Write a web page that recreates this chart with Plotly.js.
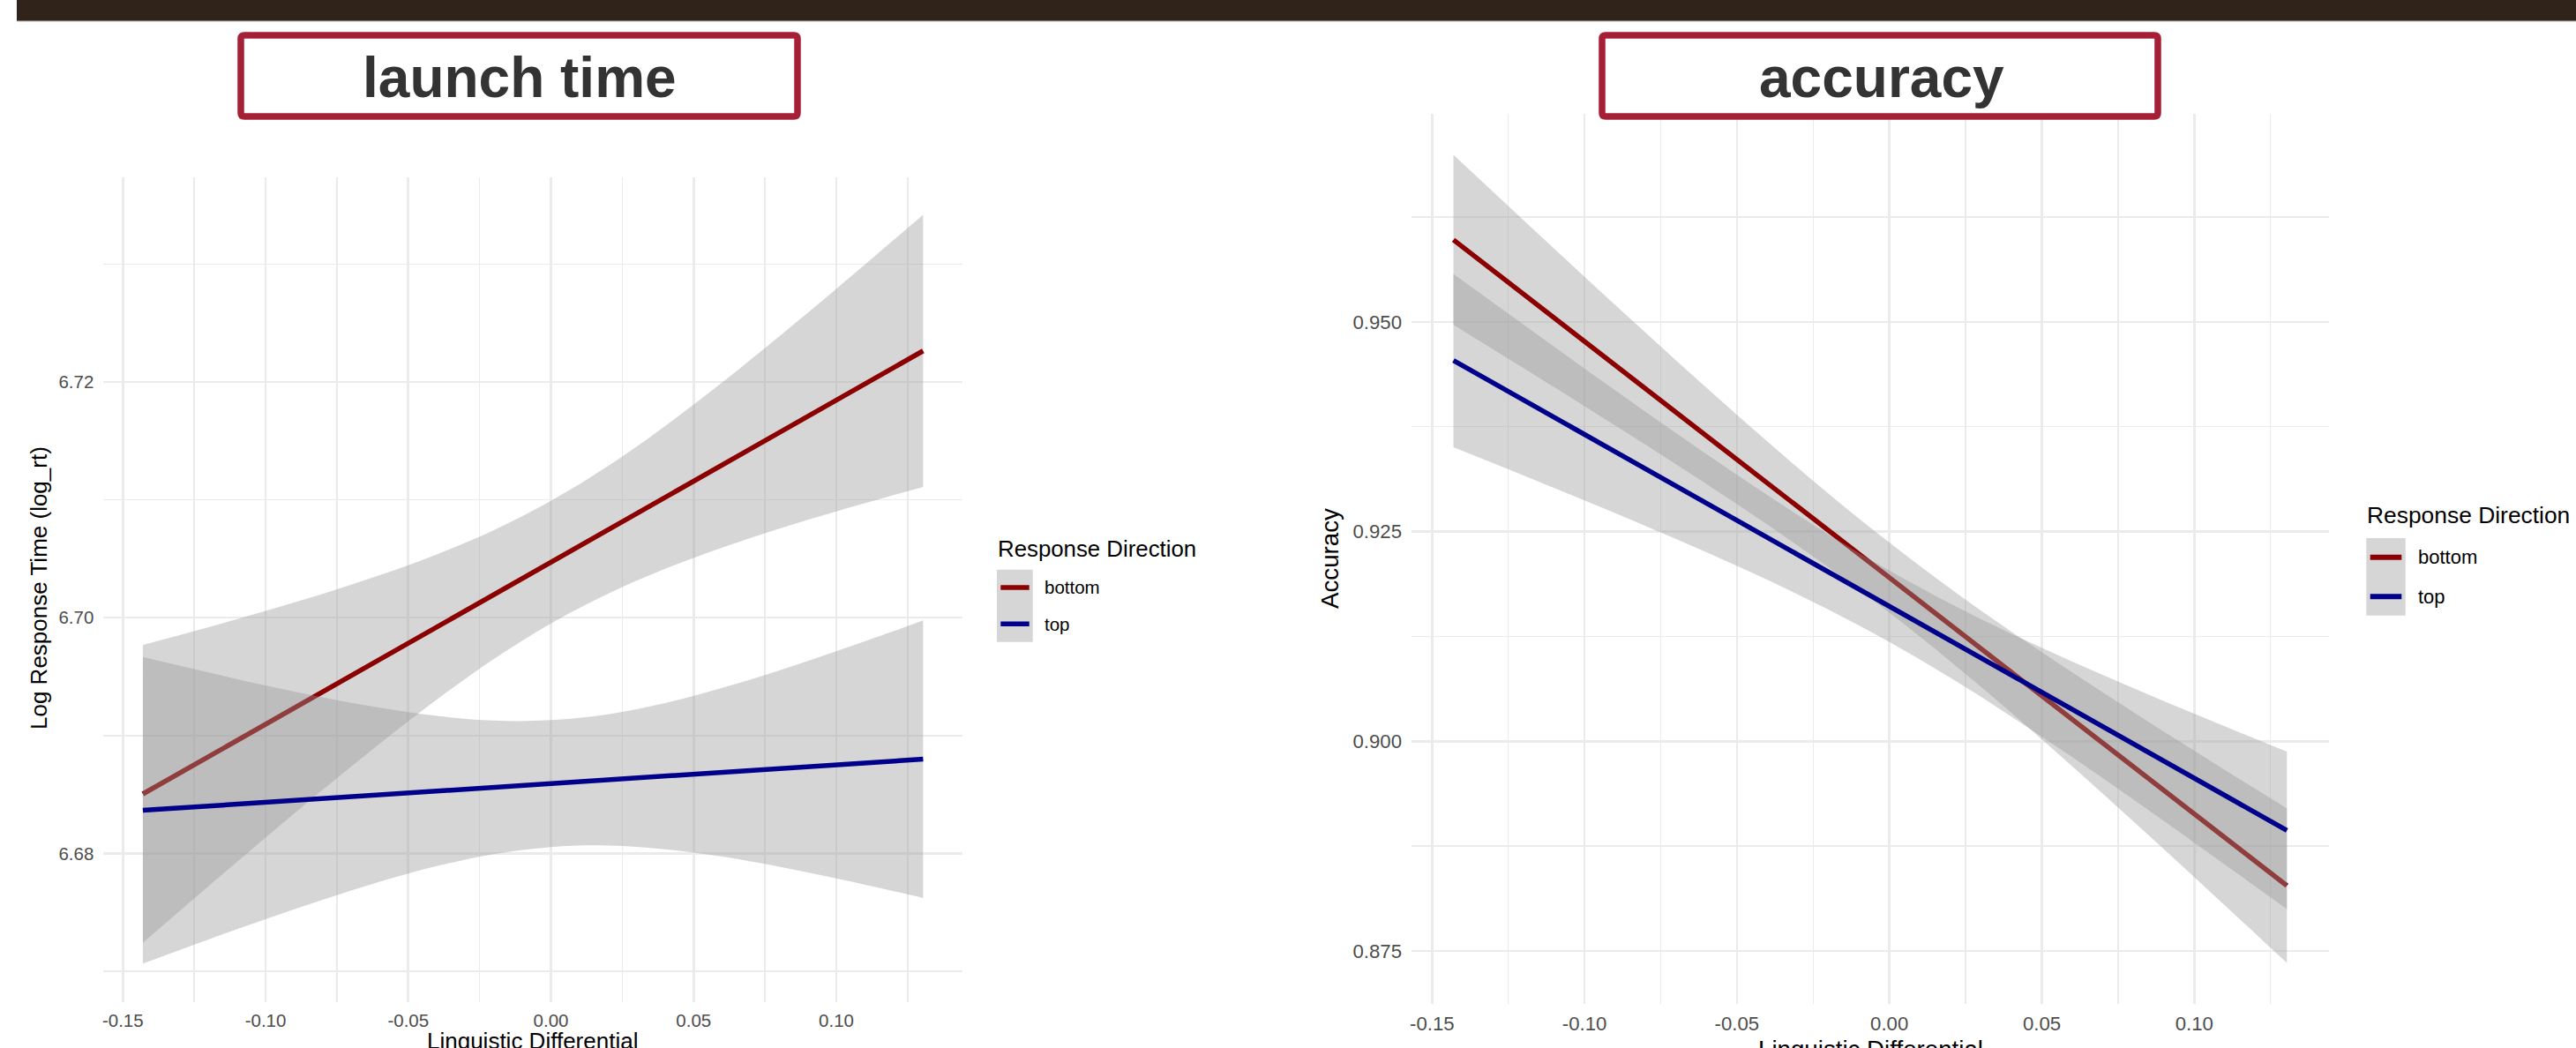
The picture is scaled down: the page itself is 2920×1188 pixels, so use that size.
<!DOCTYPE html>
<html>
<head>
<meta charset="utf-8">
<script src="https://cdn.plot.ly/plotly-3.0.1.min.js"></script>
<style>
  html, body { margin: 0; padding: 0; background: #ffffff; }
  #chart { width: 2920px; height: 1188px; }
</style>
</head>
<body>
<div id="chart"></div>
<script>
// ---------------- DATA ----------------
const panelTitles = ["launch time", "accuracy"];
const seriesNames = ["bottom", "top"];
const legendTitle = "Response Direction";
const xTitle = "Linguistic Differential";
const yTitles = ["Log Response Time (log_rt)", "Accuracy"];

// x positions where the fitted lines and confidence bands were read
const xGrid = [-0.143, -0.12, -0.10, -0.08, -0.06, -0.04, -0.02, 0.00, 0.02, 0.04, 0.06, 0.08, 0.10, 0.12, 0.1304];

// Panel 1: launch time (log_rt)
const rtBottomFit   = [6.68505, 6.68821, 6.69096, 6.69371, 6.69646, 6.69921, 6.70196, 6.70471, 6.70745, 6.71020, 6.71295, 6.71570, 6.71845, 6.72120, 6.72263];
const rtBottomUpper = [6.69768, 6.69919, 6.70057, 6.70202, 6.70360, 6.70537, 6.70743, 6.70991, 6.71286, 6.71625, 6.71995, 6.72386, 6.72789, 6.73201, 6.73417];
const rtBottomLower = [6.67242, 6.67723, 6.68135, 6.68540, 6.68932, 6.69306, 6.69649, 6.69951, 6.70204, 6.70415, 6.70595, 6.70755, 6.70901, 6.71039, 6.71109];
const rtTopFit      = [6.68366, 6.68403, 6.68434, 6.68466, 6.68498, 6.68530, 6.68561, 6.68593, 6.68625, 6.68656, 6.68688, 6.68720, 6.68752, 6.68783, 6.68800];
const rtTopUpper    = [6.69666, 6.69535, 6.69425, 6.69324, 6.69236, 6.69167, 6.69127, 6.69131, 6.69181, 6.69276, 6.69404, 6.69552, 6.69715, 6.69885, 6.69977];
const rtTopLower    = [6.67066, 6.67271, 6.67443, 6.67607, 6.67760, 6.67893, 6.67995, 6.68055, 6.68068, 6.68036, 6.67973, 6.67888, 6.67789, 6.67681, 6.67623];

// Panel 2: accuracy
const accBottomFit   = [0.95978, 0.95330, 0.94767, 0.94204, 0.93640, 0.93077, 0.92514, 0.91951, 0.91387, 0.90824, 0.90261, 0.89697, 0.89134, 0.88571, 0.88278];
const accBottomUpper = [0.96991, 0.96212, 0.95539, 0.94872, 0.94214, 0.93573, 0.92954, 0.92369, 0.91821, 0.91308, 0.90820, 0.90348, 0.89888, 0.89434, 0.89199];
const accBottomLower = [0.94965, 0.94448, 0.93995, 0.93536, 0.93066, 0.92582, 0.92074, 0.91533, 0.90953, 0.90340, 0.89701, 0.89046, 0.88380, 0.87708, 0.87357];
const accTopFit      = [0.94539, 0.94068, 0.93658, 0.93248, 0.92838, 0.92429, 0.92019, 0.91609, 0.91199, 0.90789, 0.90380, 0.89970, 0.89560, 0.89150, 0.88937];
const accTopUpper    = [0.95572, 0.94967, 0.94445, 0.93929, 0.93423, 0.92934, 0.92468, 0.92035, 0.91641, 0.91282, 0.90950, 0.90634, 0.90328, 0.90029, 0.89876];
const accTopLower    = [0.93506, 0.93169, 0.92871, 0.92567, 0.92253, 0.91924, 0.91570, 0.91183, 0.90757, 0.90296, 0.89810, 0.89306, 0.88792, 0.88271, 0.87998];

// Tick labels
const xTickVals  = [-0.15, -0.10, -0.05, 0.00, 0.05, 0.10];
const xTickText  = ["-0.15", "-0.10", "-0.05", "0.00", "0.05", "0.10"];
const xMinorVals = [-0.125, -0.075, -0.025, 0.025, 0.075, 0.125];
const y1TickVals  = [6.68, 6.70, 6.72];
const y1TickText  = ["6.68", "6.70", "6.72"];
const y1MinorVals = [6.67, 6.69, 6.71, 6.73];
const y2TickVals  = [0.875, 0.900, 0.925, 0.950];
const y2TickText  = ["0.875", "0.900", "0.925", "0.950"];
const y2MinorVals = [0.8875, 0.9125, 0.9375, 0.9625];

// ---------------- STYLE / LAYOUT ----------------
const W = 2920, H = 1188;
const px = v => v / W;          // pixel x -> paper
const py = v => 1 - v / H;      // pixel y -> paper
const FONT = "Liberation Sans, Arial, Helvetica, sans-serif";
const RED = "#8B0000", BLUE = "#00008B";
const BAND = "rgba(153,153,153,0.4)";
const GRID = "#ebebeb";
const CRIMSON = "#a51f37";

// confidence band: lower edge (no fill) followed by upper edge filled to it
function band(xs, up, lo, xa, ya) {
  return [
    { x: xs, y: lo, type: "scatter", mode: "lines",
      line: { width: 0, color: "rgba(0,0,0,0)", shape: "spline", smoothing: 1 },
      hoverinfo: "skip", showlegend: false, xaxis: xa, yaxis: ya },
    { x: xs, y: up, type: "scatter", mode: "lines", fill: "tonexty", fillcolor: BAND,
      line: { width: 0, color: "rgba(0,0,0,0)", shape: "spline", smoothing: 1 },
      hoverinfo: "skip", showlegend: false, xaxis: xa, yaxis: ya }
  ];
}
function fitLine(xs, ys, color, name, xa, ya) {
  return {
    x: xs, y: ys, type: "scatter", mode: "lines", name: name,
    line: { color: color, width: 5.5 }, showlegend: false, xaxis: xa, yaxis: ya
  };
}

const traces = [].concat(
  band(xGrid, rtBottomUpper, rtBottomLower, "x", "y"),
  [fitLine(xGrid, rtBottomFit, RED, seriesNames[0], "x", "y")],
  band(xGrid, rtTopUpper, rtTopLower, "x", "y"),
  [fitLine(xGrid, rtTopFit, BLUE, seriesNames[1], "x", "y")],
  band(xGrid, accBottomUpper, accBottomLower, "x2", "y2"),
  [fitLine(xGrid, accBottomFit, RED, seriesNames[0], "x2", "y2")],
  band(xGrid, accTopUpper, accTopLower, "x2", "y2"),
  [fitLine(xGrid, accTopFit, BLUE, seriesNames[1], "x2", "y2")]
);

function axisBase(fontSize) {
  return {
    showgrid: true, gridcolor: GRID, gridwidth: 2.6,
    zeroline: false, showline: false, ticks: "",
    tickfont: { family: FONT, size: fontSize, color: "#4d4d4d" },
    tickmode: "array", fixedrange: true
  };
}
function minor(vals) {
  return { tickmode: "array", tickvals: vals, showgrid: true, gridcolor: GRID, gridwidth: 1.4, ticks: "" };
}

const xaxis = Object.assign(axisBase(20.5), {
  domain: [px(117.3), px(1090.7)], range: [-0.1568, 0.1441], anchor: "y",
  tickvals: xTickVals, ticktext: xTickText, minor: minor(xMinorVals), ticklabelstandoff: 6
});
const yaxis = Object.assign(axisBase(20.5), {
  domain: [py(1136.3), py(201)], range: [6.66737, 6.73735], anchor: "x",
  tickvals: y1TickVals, ticktext: y1TickText, minor: minor(y1MinorVals), ticklabelstandoff: 10
});
const xaxis2 = Object.assign(axisBase(22.2), {
  domain: [px(1600), px(2640)], range: [-0.15675, 0.1442], anchor: "y2",
  tickvals: xTickVals, ticktext: xTickText, minor: minor(xMinorVals), ticklabelstandoff: 7
});
const yaxis2 = Object.assign(axisBase(22.2), {
  domain: [py(1138), py(128.5)], range: [0.86869, 0.97486], anchor: "x2",
  tickvals: y2TickVals, ticktext: y2TickText, minor: minor(y2MinorVals), ticklabelstandoff: 10
});

// rounded-rectangle path (pixel coords -> paper)
function roundRect(x0, y0, x1, y1, r) {
  const P = (x, y) => px(x) + "," + py(y);
  return "M" + P(x0 + r, y0) + " L" + P(x1 - r, y0) + " Q" + P(x1, y0) + " " + P(x1, y0 + r) +
         " L" + P(x1, y1 - r) + " Q" + P(x1, y1) + " " + P(x1 - r, y1) +
         " L" + P(x0 + r, y1) + " Q" + P(x0, y1) + " " + P(x0, y1 - r) +
         " L" + P(x0, y0 + r) + " Q" + P(x0, y0) + " " + P(x0 + r, y0) + " Z";
}

const shapes = [
  // top dark bar
  { type: "rect", xref: "paper", yref: "paper", x0: px(19), x1: 1, y0: py(23), y1: 1,
    fillcolor: "#30231a", line: { width: 0 } },
  { type: "line", xref: "paper", yref: "paper", x0: px(19), x1: 1, y0: py(23.6), y1: py(23.6),
    line: { color: "#77716b", width: 1.2 } },
  // title boxes
  { type: "path", xref: "paper", yref: "paper", path: roundRect(273, 40, 904, 132, 4),
    line: { color: CRIMSON, width: 7.5 }, fillcolor: "rgba(255,255,255,0)" },
  { type: "path", xref: "paper", yref: "paper", path: roundRect(1816, 40, 2446, 132, 4),
    line: { color: CRIMSON, width: 7.5 }, fillcolor: "rgba(255,255,255,0)" },
  // legend key backgrounds
  { type: "rect", xref: "paper", yref: "paper", x0: px(1130), x1: px(1170.7), y0: py(727.7), y1: py(645.7),
    fillcolor: BAND, line: { width: 0 } },
  { type: "rect", xref: "paper", yref: "paper", x0: px(2682.3), x1: px(2726.7), y0: py(697.7), y1: py(610),
    fillcolor: BAND, line: { width: 0 } },
  // legend key lines
  { type: "line", xref: "paper", yref: "paper", x0: px(1134.3), x1: px(1166.7), y0: py(666), y1: py(666),
    line: { color: RED, width: 5.5 } },
  { type: "line", xref: "paper", yref: "paper", x0: px(1134.3), x1: px(1166.7), y0: py(707.3), y1: py(707.3),
    line: { color: BLUE, width: 5.5 } },
  { type: "line", xref: "paper", yref: "paper", x0: px(2686.7), x1: px(2722.3), y0: py(631.7), y1: py(631.7),
    line: { color: RED, width: 6 } },
  { type: "line", xref: "paper", yref: "paper", x0: px(2686.7), x1: px(2722.3), y0: py(676.3), y1: py(676.3),
    line: { color: BLUE, width: 6 } }
];

function ann(text, x, y, size, opts) {
  return Object.assign({
    text: text, xref: "paper", yref: "paper", x: px(x), y: py(y),
    xanchor: "center", yanchor: "middle", showarrow: false,
    font: { family: FONT, size: size, color: "#000000" }
  }, opts || {});
}

const annotations = [
  ann("<b>" + panelTitles[0] + "</b>", 589, 88, 64, { font: { family: FONT, size: 64, color: "#333333" } }),
  ann("<b>" + panelTitles[1] + "</b>", 2133, 88, 64, { font: { family: FONT, size: 64, color: "#333333" } }),
  ann(yTitles[0], 44, 667, 26, { textangle: -90 }),
  ann(yTitles[1], 1507, 633, 27.7, { textangle: -90 }),
  ann(xTitle, 603.5, 1180, 26),
  ann(xTitle, 2120, 1189, 27.7),
  ann(legendTitle, 1129, 622, 25.8, { xanchor: "left" }),
  ann(seriesNames[0], 1182, 666, 20.5, { xanchor: "left" }),
  ann(seriesNames[1], 1182, 707.3, 20.5, { xanchor: "left" }),
  ann(legendTitle, 2681, 583.5, 26.4, { xanchor: "left" }),
  ann(seriesNames[0], 2739, 631.7, 22, { xanchor: "left" }),
  ann(seriesNames[1], 2739, 676.3, 22, { xanchor: "left" })
];

const layout = {
  width: W, height: H,
  margin: { l: 0, r: 0, t: 0, b: 0, pad: 0 },
  paper_bgcolor: "#ffffff", plot_bgcolor: "#ffffff",
  showlegend: false,
  font: { family: FONT },
  xaxis: xaxis, yaxis: yaxis, xaxis2: xaxis2, yaxis2: yaxis2,
  shapes: shapes, annotations: annotations
};

Plotly.newPlot("chart", traces, layout, { displayModeBar: false, staticPlot: true });
</script>
</body>
</html>
